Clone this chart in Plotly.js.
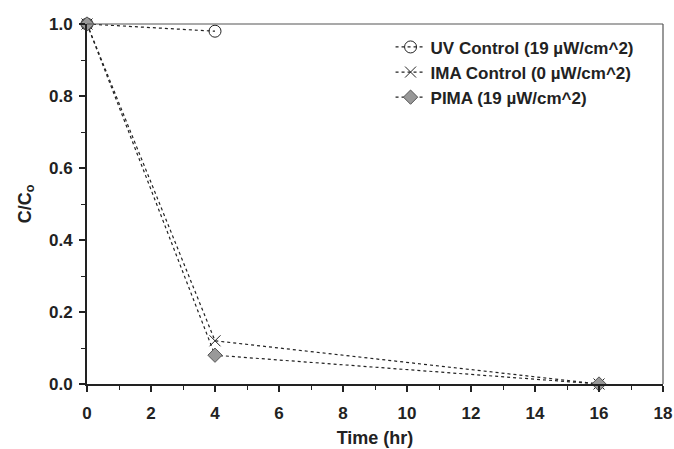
<!DOCTYPE html>
<html>
<head>
<meta charset="utf-8">
<script src="https://cdn.plot.ly/plotly-3.0.1.min.js"></script>
<style>html,body{margin:0;padding:0;background:#fff}#chart{width:674px;height:449px}</style>
</head>
<body>
<div id="chart"></div>
<script>
const uvTime = [0, 4];
const uvValues = [1.0, 0.98];
const imaTime = [0, 4, 16];
const imaValues = [1.0, 0.12, 0.0];
const pimaTime = [0, 4, 16];
const pimaValues = [1.0, 0.08, 0.0];
const seriesNames = ["UV Control (19 µW/cm^2)", "IMA Control (0 µW/cm^2)", "PIMA (19 µW/cm^2)"];
const xTicks = [0, 2, 4, 6, 8, 10, 12, 14, 16, 18];
const yTicks = [0.0, 0.2, 0.4, 0.6, 0.8, 1.0];

const lineStyle = {color: '#222', width: 1.2, dash: 'dot'};
const traces = [
  {x: uvTime, y: uvValues, name: seriesNames[0], mode: 'lines+markers', line: lineStyle,
   marker: {symbol: 'circle-open', size: 12, color: '#222', line: {width: 1}}, cliponaxis: false},
  {x: imaTime, y: imaValues, name: seriesNames[1], mode: 'lines+markers', line: lineStyle,
   marker: {symbol: 'x-thin-open', size: 11, color: '#222', line: {width: 1}}, cliponaxis: false},
  {x: pimaTime, y: pimaValues, name: seriesNames[2], mode: 'lines+markers', line: lineStyle,
   marker: {symbol: 'diamond', size: 11, color: '#999', line: {width: 1, color: '#555'}}, cliponaxis: false}
];

const fontFam = "'Liberation Sans', Arial, sans-serif";
const bold = (size) => ({family: fontFam, size: size, color: '#222', weight: 700});
const layout = {
  width: 674, height: 449,
  margin: {l: 87, r: 11, t: 24, b: 65},
  paper_bgcolor: '#fff', plot_bgcolor: '#fff',
  font: bold(17),
  showlegend: true,
  legend: {x: 0.527, y: 0.985, xanchor: 'left', yanchor: 'top', bgcolor: 'rgba(0,0,0,0)',
           font: bold(17)},
  xaxis: {
    range: [0, 18], tickvals: xTicks, ticktext: xTicks.map(String),
    showgrid: false, zeroline: false, showline: true, linecolor: '#222', linewidth: 2,
    ticks: 'outside', ticklen: 6, tickwidth: 1.5, tickcolor: '#222',
    minor: {dtick: 1, ticks: 'outside', ticklen: 4, tickwidth: 1, tickcolor: '#222'},
    tickfont: bold(17), ticklabelstandoff: 7,
    title: {text: 'Time (hr)', font: bold(18), standoff: 9}
  },
  yaxis: {
    range: [0, 1.0], tickvals: yTicks, ticktext: yTicks.map(v => v.toFixed(1)),
    showgrid: false, zeroline: false, showline: true, linecolor: '#222', linewidth: 2,
    ticks: 'outside', ticklen: 6, tickwidth: 1.5, tickcolor: '#222',
    minor: {dtick: 0.1, ticks: 'outside', ticklen: 4, tickwidth: 1, tickcolor: '#222'},
    tickfont: bold(17), ticklabelstandoff: 3,
    title: {text: 'C/C<sub>o</sub>', font: bold(18), standoff: 13}
  },
  shapes: [
    {type: 'line', xref: 'paper', yref: 'paper', x0: 0, x1: 1, y0: 1, y1: 1, line: {color: '#555', width: 1.2}},
    {type: 'line', xref: 'paper', yref: 'paper', x0: 1, x1: 1, y0: 0, y1: 1, line: {color: '#555', width: 1.2}}
  ]
};
Plotly.newPlot('chart', traces, layout, {displayModeBar: false, staticPlot: true});
</script>
</body>
</html>
